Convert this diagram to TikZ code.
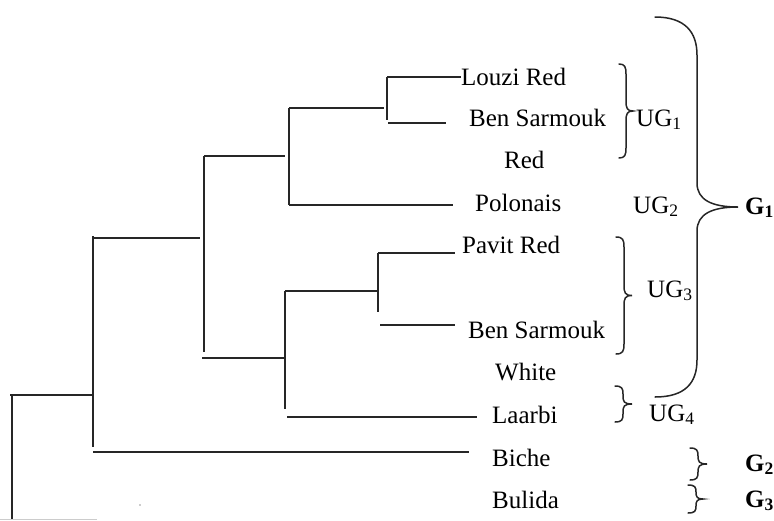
\documentclass[tikz,border=0pt]{standalone}
\usepackage{fontspec}
\setmainfont{Liberation Serif}
\newcommand{\mybrace}[6]{% #1 x end, #2 y top, #3 x spine, #4 x tip, #5 y bottom, #6 radius
  \draw[brace] (#1,#2) .. controls (#3-1,#2) and (#3,#2+0.3*#6) .. (#3,#2+#6)
    -- (#3,{(#2+#5)/2-#6}) .. controls (#3,{(#2+#5)/2-0.3*#6}) and (#3+1,{(#2+#5)/2}) .. (#4,{(#2+#5)/2})
    .. controls (#3+1,{(#2+#5)/2}) and (#3,{(#2+#5)/2+0.3*#6}) .. (#3,{(#2+#5)/2+#6})
    -- (#3,#5-#6) .. controls (#3,#5-0.3*#6) and (#3-1,#5) .. (#1,#5);}
\begin{document}
\begin{tikzpicture}[x=1pt,y=-1pt,
  tree/.style={line width=1.8pt, black!85},
  brace/.style={line width=1.5pt, black!85, line cap=round},
  lbl/.style={anchor=base west, inner sep=0pt, font=\fontsize{25}{30}\selectfont},
  grp/.style={anchor=base west, inner sep=0pt, font=\fontsize{25}{30}\selectfont\bfseries}]
\useasboundingbox (0,0) rectangle (774,520);

% leaf labels
\node[lbl] (louzi) at (461,85) {Louzi Red};
\node[lbl] (bensar1) at (469,126) {Ben Sarmouk};
\node[lbl] (red) at (504,168) {Red};
\node[lbl] (polonais) at (475,211) {Polonais};
\node[lbl] (pavit) at (462,253) {Pavit Red};
\node[lbl] (bensar2) at (468,338) {Ben Sarmouk};
\node[lbl] (white) at (495,380) {White};
\node[lbl] (laarbi) at (492,423) {Laarbi};
\node[lbl] (biche) at (492,466) {Biche};
\node[lbl] (bulida) at (492,508) {Bulida};

% group labels
\node[lbl] (ug1) at (636,126) {UG\textsubscript{1}};
\node[lbl] (ug2) at (633,213) {UG\textsubscript{2}};
\node[lbl] (ug3) at (647,297) {UG\textsubscript{3}};
\node[lbl] (ug4) at (649,421) {UG\textsubscript{4}};
\node[grp] (g1) at (745,214) {G\textsubscript{1}};
\node[grp] (g2) at (745,471) {G\textsubscript{2}};
\node[grp] (g3) at (745,507) {G\textsubscript{3}};

% junction coordinates
\coordinate (j1t) at (387,77);
\coordinate (j1b) at (387,120);
\coordinate (j1l) at (388,123);
\coordinate (j1e) at (446,123);
\coordinate (j2t) at (289,108);
\coordinate (j2s) at (384,108);
\coordinate (j2b) at (289,205);
\coordinate (j2e) at (453,205);
\coordinate (j3t) at (204,156);
\coordinate (j3s) at (285,156);
\coordinate (j3b) at (204,352);
\coordinate (j3l) at (202,358);
\coordinate (j3r) at (285,358);
\coordinate (j4t) at (285,291);
\coordinate (j4b) at (285,409);
\coordinate (j4l) at (287,417);
\coordinate (j4e) at (477,417);
\coordinate (j5t) at (378,253);
\coordinate (j5b) at (378,312);
\coordinate (j5e) at (455,253);
\coordinate (j5l) at (380,325);
\coordinate (j5f) at (455,325);
\coordinate (j6t) at (93,236);
\coordinate (j6s) at (200,238);
\coordinate (j6b) at (93,447);
\coordinate (j6l) at (93,452);
\coordinate (j6e) at (469,452);
\coordinate (j7l) at (10,395);
\coordinate (j7r) at (93,395);
\coordinate (j7t) at (12,395);
\coordinate (j7b) at (12,520);

% dendrogram
\draw[tree] (j1t) -- (j1t -| louzi.west);
\draw[tree] (j1t) -- (j1b);
\draw[tree] (j1l) -- (j1e);
\draw[tree] (j2t) -- (j2s);
\draw[tree] (j2t) -- (j2b);
\draw[tree] (j2b) -- (j2e);
\draw[tree] (j3t) -- (j3s);
\draw[tree] (j3t) -- (j3b);
\draw[tree] (j3l) -- (j3r);
\draw[tree] (j4t) -- (j4b);
\draw[tree] (j4t) -- (j5t |- j4t);
\draw[tree] (j4l) -- (j4e);
\draw[tree] (j5t) -- (j5b);
\draw[tree] (j5t) -- (j5e);
\draw[tree] (j5l) -- (j5f);
\draw[tree] (j6t) -- (j6b);
\draw[tree] (j6t |- j6s) -- (j6s);
\draw[tree] (j6l) -- (j6e);
\draw[tree] (j7l) -- (j7r);
\draw[tree] (j7t) -- (j7b);

% small braces
\mybrace{619}{64}{626}{633}{158}{10}
\mybrace{616}{237}{624}{632}{354}{10}
\mybrace{615}{386}{623}{632}{422}{8}
\mybrace{690}{448}{698}{707}{480}{8}
\mybrace{688}{485}{696}{703}{513}{7}

% large brace G1
\draw[brace] (655,17) .. controls (685,17) and (697,32) .. (697,55)
  -- (697,183) .. controls (697,200) and (712,207) .. (738,207)
  .. controls (712,207) and (697,214) .. (697,231)
  -- (697,360) .. controls (697,383) and (685,397) .. (655,397);

% small artifacts
\fill[black!40] (140,505) circle (0.8);
\draw[black!20, line width=1pt] (0,519) -- (97,519);
\end{tikzpicture}
\end{document}
